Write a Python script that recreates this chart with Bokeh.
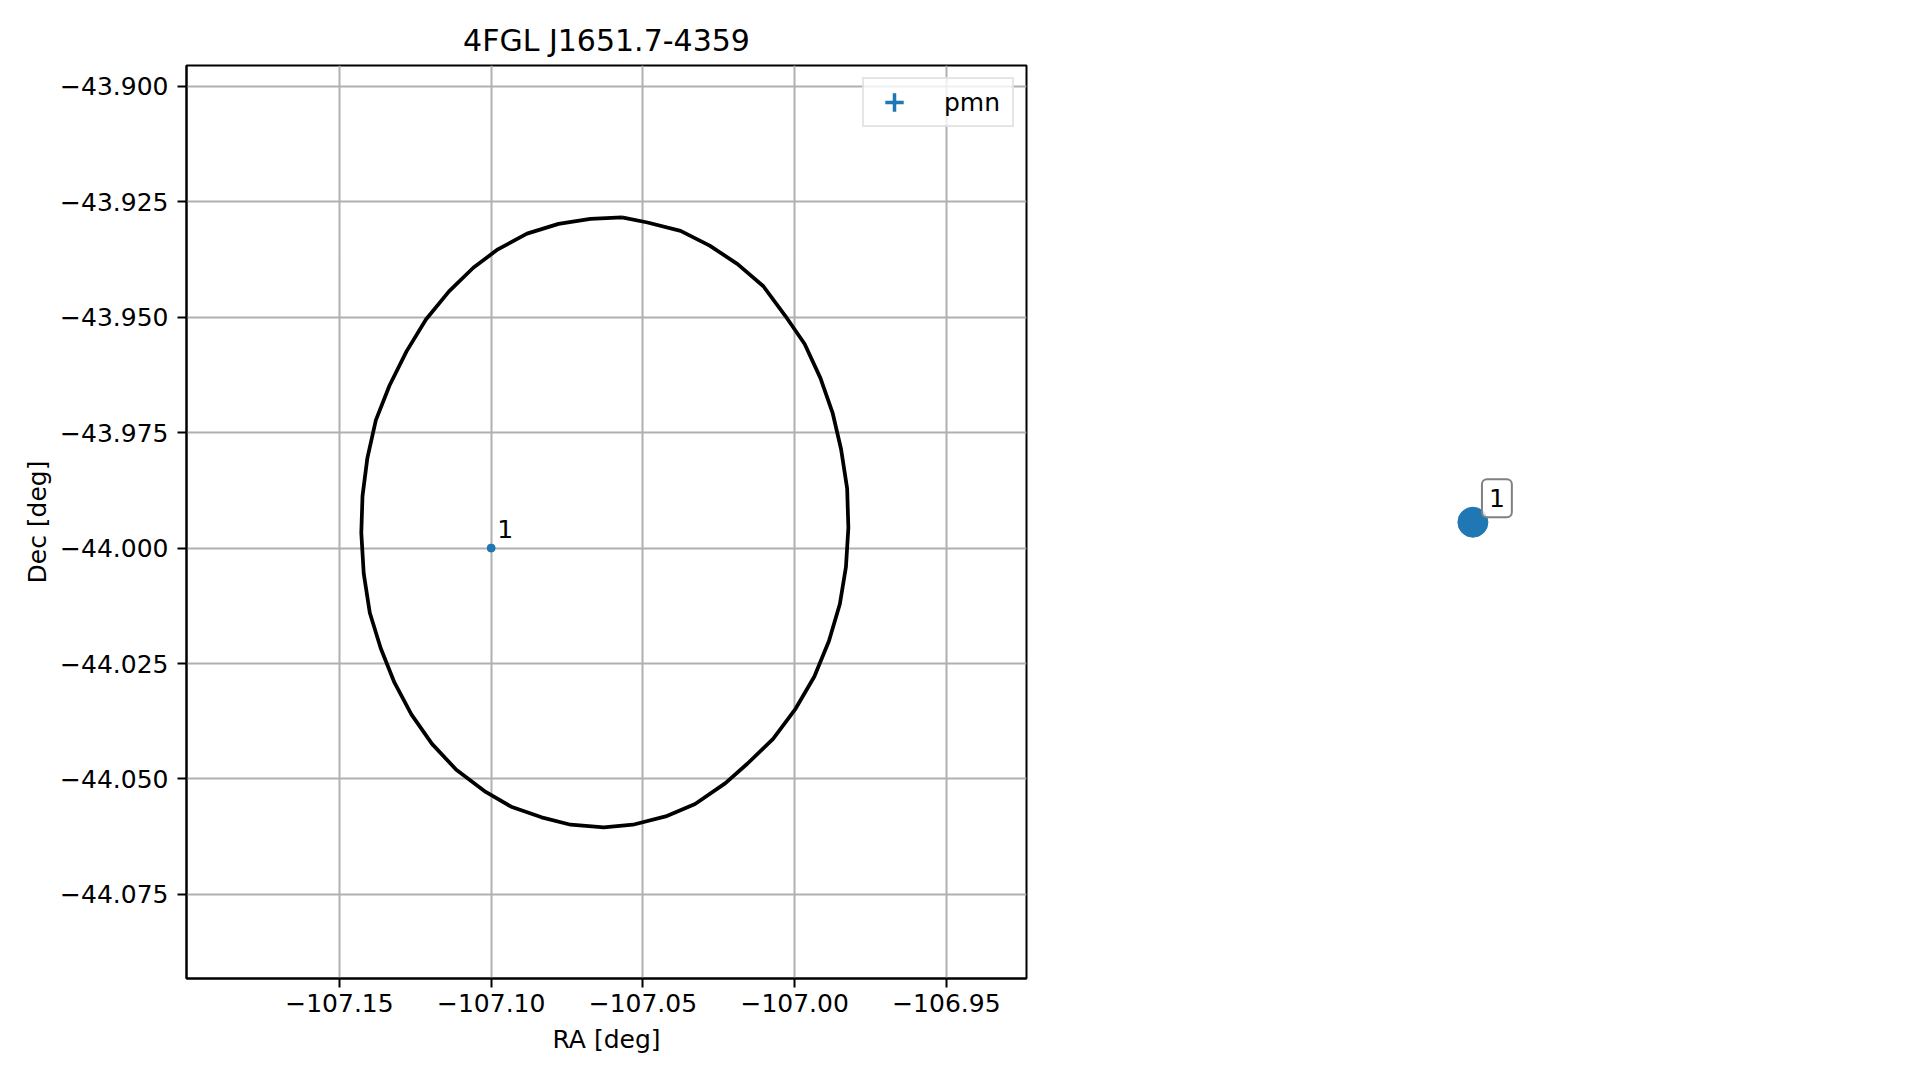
from bokeh.plotting import figure
from bokeh.models import Range1d, FixedTicker, Legend, LegendItem
from bokeh.layouts import row
from bokeh.embed import file_html
from bokeh.resources import INLINE
from bokeh.core.properties import value

FONT = "DejaVu Sans"
BLUE = "#1f77b4"

TITLE = "4FGL J1651.7-4359"
X_LABEL = "RA [deg]"
Y_LABEL = "Dec [deg]"

# 95% error ellipse of the source
ell_ra = [-107.0569, -107.0485, -107.0376, -107.0280, -107.0188, -107.0103, -107.0031,
          -106.9967, -106.9915, -106.9875, -106.9847, -106.9827, -106.9823, -106.9831,
          -106.9851, -106.9887, -106.9935, -106.9999, -107.0071, -107.0156, -107.0228,
          -107.0328, -107.0425, -107.0533, -107.0629, -107.0738, -107.0834, -107.0934,
          -107.1018, -107.1115, -107.1195, -107.1263, -107.1319, -107.1364, -107.1400,
          -107.1420, -107.1428, -107.1424, -107.1408, -107.1380, -107.1335, -107.1279,
          -107.1215, -107.1139, -107.1059, -107.0978, -107.0882, -107.0778, -107.0673,
          -107.0569]
ell_dec = [-43.9284, -43.9295, -43.9313, -43.9345, -43.9385, -43.9433, -43.9497,
           -43.9558, -43.9632, -43.9707, -43.9786, -43.9871, -43.9956, -44.0041,
           -44.0121, -44.0201, -44.0278, -44.0350, -44.0413, -44.0467, -44.0509,
           -44.0554, -44.0581, -44.0599, -44.0605, -44.0599, -44.0583, -44.0560,
           -44.0528, -44.0480, -44.0424, -44.0360, -44.0291, -44.0217, -44.0140,
           -44.0055, -43.9967, -43.9887, -43.9805, -43.9723, -43.9648, -43.9574,
           -43.9505, -43.9444, -43.9393, -43.9353, -43.9319, -43.9298, -43.9287,
           -43.9284]

# counterpart candidate (pmn)
src_name = "pmn"
src_ra = [-107.100]
src_dec = [-44.000]
src_label = ["1"]

# marker drawn outside the axes
out_ra = [-106.7765]
out_dec = [-43.9944]
out_label = ["1"]

x_ticks = [-107.15, -107.10, -107.05, -107.00, -106.95]
x_tick_labels = ["\u2212107.15", "\u2212107.10", "\u2212107.05", "\u2212107.00", "\u2212106.95"]
y_ticks = [-43.900, -43.925, -43.950, -43.975, -44.000, -44.025, -44.050, -44.075]
y_tick_labels = ["\u221243.900", "\u221243.925", "\u221243.950", "\u221243.975",
                 "\u221244.000", "\u221244.025", "\u221244.050", "\u221244.075"]

x_lim = (-107.2004, -106.9236)
y_lim = (-44.0932, -43.8955)

FRAME_W = 840
BORDER_L, BORDER_R, BORDER_T, BORDER_B = 186, 10, 65, 94
P_W = BORDER_L + FRAME_W + BORDER_R
P_H = 1072

p = figure(width=P_W, height=P_H, x_range=Range1d(*x_lim), y_range=Range1d(*y_lim),
           output_backend="svg", toolbar_location=None, tools="",
           min_border_left=BORDER_L, min_border_right=BORDER_R,
           min_border_top=BORDER_T, min_border_bottom=BORDER_B)

p.title.text = TITLE
p.title.align = "center"
p.title.text_font = FONT
p.title.text_font_size = "30px"
p.title.text_font_style = "normal"
p.title.text_color = "black"
p.title.standoff = 15

p.outline_line_color = "black"
p.outline_line_width = 2

xt = FixedTicker(ticks=x_ticks)
yt = FixedTicker(ticks=y_ticks)
p.xaxis.ticker = xt
p.yaxis.ticker = yt
p.xgrid.ticker = xt
p.ygrid.ticker = yt
p.xaxis.major_label_overrides = dict(zip(x_ticks, x_tick_labels))
p.yaxis.major_label_overrides = dict(zip(y_ticks, y_tick_labels))
p.xaxis.axis_label = X_LABEL
p.yaxis.axis_label = Y_LABEL

for ax in (p.xaxis[0], p.yaxis[0]):
    ax.axis_line_color = "black"
    ax.axis_line_width = 2
    ax.major_tick_line_color = "black"
    ax.major_tick_line_width = 2
    ax.major_tick_out = 9
    ax.major_tick_in = 0
    ax.minor_tick_line_color = None
    ax.major_label_text_font = FONT
    ax.major_label_text_font_size = "25px"
    ax.major_label_text_color = "black"
    ax.axis_label_text_font = FONT
    ax.axis_label_text_font_size = "25px"
    ax.axis_label_text_font_style = "normal"
    ax.axis_label_text_color = "black"
p.xaxis.major_label_standoff = 6
p.yaxis.major_label_standoff = 9
p.xaxis.axis_label_standoff = 10
p.yaxis.axis_label_standoff = 5

p.grid.grid_line_color = "#b0b0b0"
p.grid.grid_line_width = 2

p.line(ell_ra, ell_dec, line_color="black", line_width=3.75)

cross_r = p.scatter(src_ra, src_dec, marker="cross", size=0, line_color=BLUE, line_width=3.5)
dot_r = p.scatter(src_ra, src_dec, marker="dot", size=0, line_color=BLUE, line_width=4,
                  fill_color=BLUE)
p.scatter(src_ra, src_dec, marker="circle", size=8, fill_color=BLUE, line_color=BLUE)
p.text(src_ra, src_dec, text=src_label, x_offset=6, y_offset=-19,
       text_font=value(FONT), text_font_size="25px", text_color="black",
       text_baseline="alphabetic", text_align="left")

legend = Legend(items=[LegendItem(label=src_name, renderers=[cross_r, dot_r])],
                location="top_right", margin=12, padding=0, spacing=0,
                glyph_width=60, glyph_height=46, label_standoff=20, label_width=68,
                label_text_font=FONT, label_text_font_size="25px", label_text_color="black",
                border_line_color="#cccccc", border_line_width=2,
                background_fill_color="white", background_fill_alpha=0.8)
p.add_layout(legend)

# companion canvas continuing the same linear scale to the right of the axes
k = (x_lim[1] - x_lim[0]) / FRAME_W
P2_W = 870
p2_start = x_lim[1] + BORDER_R * k
p2_end = p2_start + P2_W * k
p2 = figure(width=P2_W, height=P_H, x_range=Range1d(p2_start, p2_end), y_range=p.y_range,
            output_backend="svg", toolbar_location=None, tools="",
            x_axis_location=None, y_axis_location=None,
            min_border_left=0, min_border_right=0,
            min_border_top=BORDER_T, min_border_bottom=BORDER_B)
p2.grid.visible = False
p2.outline_line_color = None

p2.scatter(out_ra, out_dec, marker="circle", size=30, fill_color=BLUE, line_color=BLUE)
p2.text(out_ra, out_dec, text=out_label, x_offset=24, y_offset=-24,
        text_font=value(FONT), text_font_size="25px", text_color="black",
        text_align="center", text_baseline="middle",
        background_fill_color="white", background_fill_alpha=0.8,
        border_line_color="gray", border_line_width=2,
        padding=dict(left=7, right=7, top=10, bottom=10), border_radius=5)

layout = row(p, p2)
open("out.html", "w").write(file_html(layout, INLINE))
